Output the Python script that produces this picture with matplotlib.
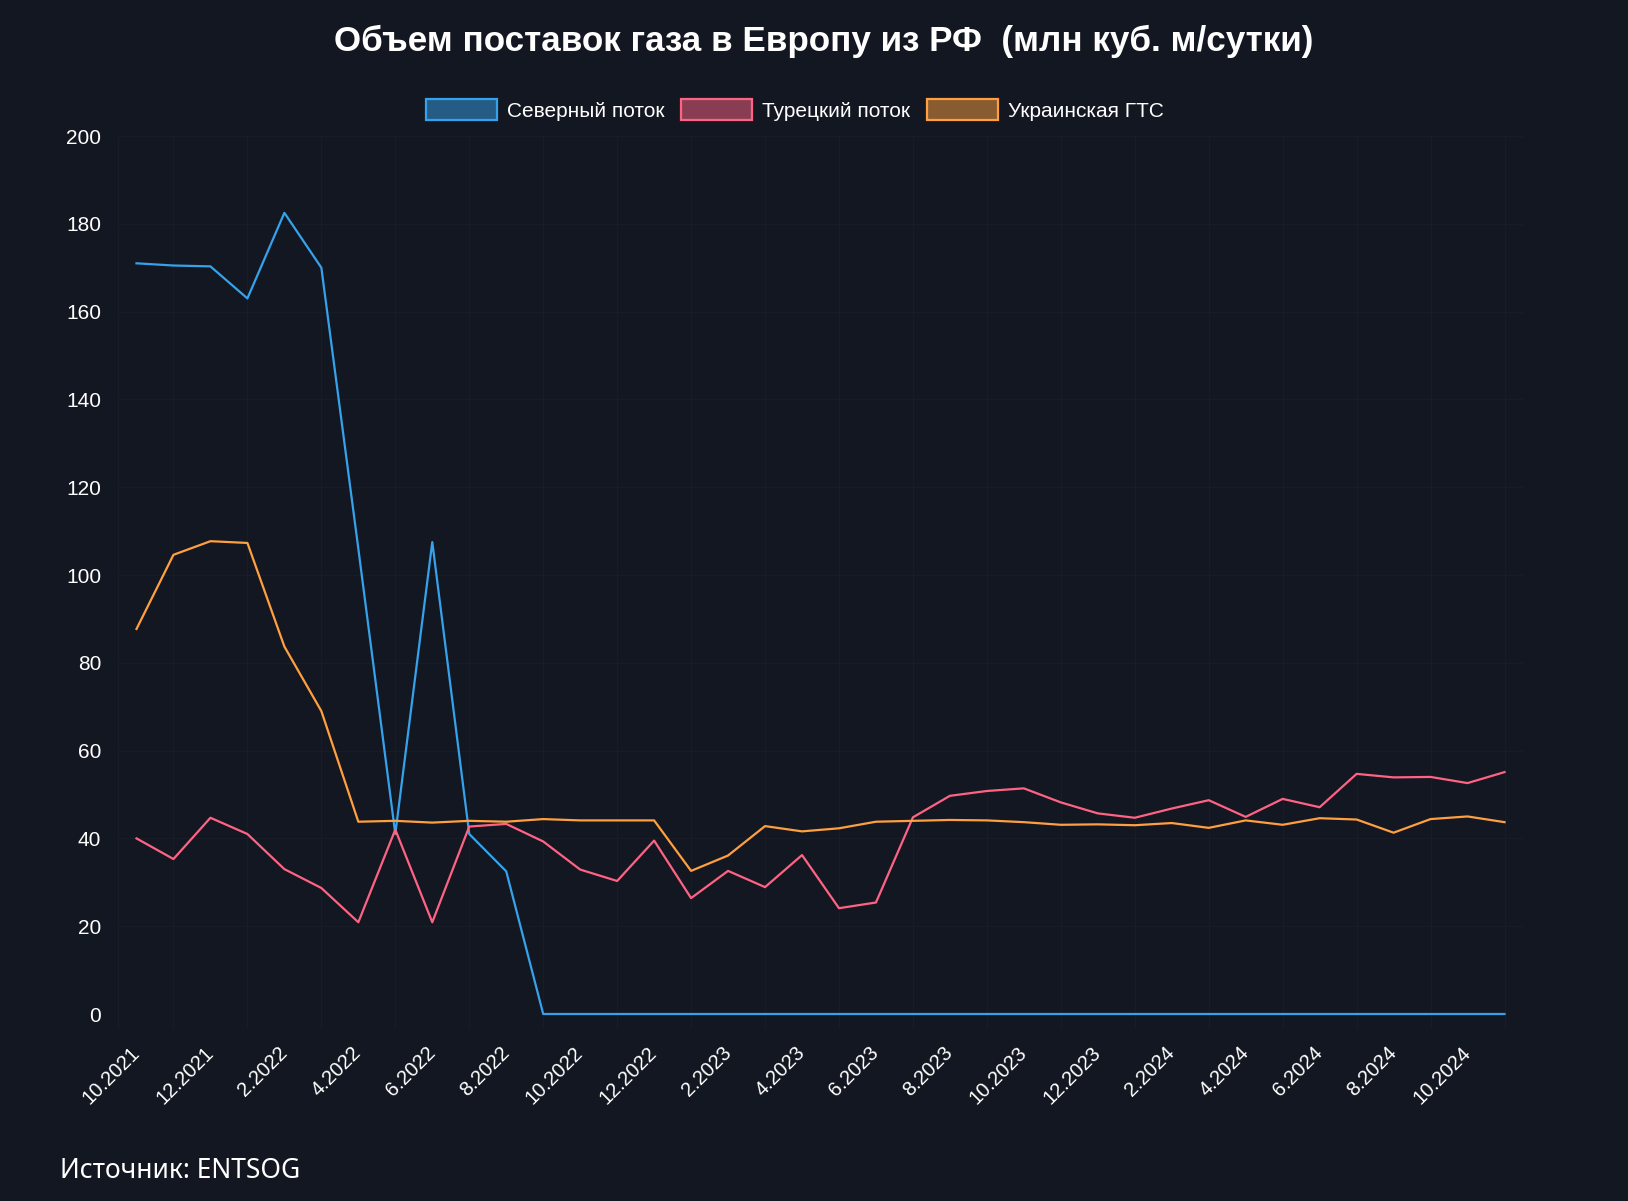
import matplotlib
matplotlib.use("Agg")
import matplotlib.pyplot as plt
import matplotlib.colors as mc
from matplotlib.patches import Patch

months = ["10.2021", "11.2021", "12.2021", "1.2022", "2.2022", "3.2022", "4.2022", "5.2022",
          "6.2022", "7.2022", "8.2022", "9.2022", "10.2022", "11.2022", "12.2022", "1.2023",
          "2.2023", "3.2023", "4.2023", "5.2023", "6.2023", "7.2023", "8.2023", "9.2023",
          "10.2023", "11.2023", "12.2023", "1.2024", "2.2024", "3.2024", "4.2024", "5.2024",
          "6.2024", "7.2024", "8.2024", "9.2024", "10.2024", "11.2024"]

nord_stream = [171.0, 170.5, 170.3, 163.0, 182.5, 170.0, 106.0, 41.0, 107.5, 41.0, 32.5, 0,
               0, 0, 0, 0, 0, 0, 0, 0, 0, 0, 0, 0, 0, 0, 0, 0, 0, 0, 0, 0, 0, 0, 0, 0, 0, 0]

turk_stream = [40.0, 35.3, 44.7, 41.0, 33.0, 28.7, 20.9, 42.0, 20.9, 42.7, 43.3, 39.3,
               32.9, 30.3, 39.5, 26.4, 32.6, 28.9, 36.2, 24.1, 25.4, 44.8, 49.7, 50.8,
               51.4, 48.2, 45.7, 44.7, 46.8, 48.7, 44.9, 49.0, 47.1, 54.7, 53.9, 54.0,
               52.6, 55.1]

ukraine_gts = [87.7, 104.6, 107.7, 107.3, 83.7, 69.0, 43.8, 44.0, 43.6, 44.0, 43.8, 44.4,
               44.1, 44.1, 44.1, 32.6, 36.1, 42.8, 41.6, 42.3, 43.8, 44.0, 44.2, 44.1,
               43.7, 43.1, 43.2, 43.0, 43.5, 42.4, 44.1, 43.1, 44.6, 44.3, 41.3, 44.4,
               45.0, 43.7]

series_names = ["Северный поток", "Турецкий поток", "Украинская ГТС"]
colors = ["#36A2EB", "#FF6384", "#FF9F40"]
y_ticks = [0, 20, 40, 60, 80, 100, 120, 140, 160, 180, 200]

title = "Объем поставок газа в Европу из РФ  (млн куб. м/сутки)"
source = "Источник: ENTSOG"

BG = "#131721"
GRID = "#181c26"

plt.rcParams['font.family'] = ['Liberation Sans', 'DejaVu Sans']

fig = plt.figure(figsize=(16.28, 12.01), dpi=100, facecolor=BG)
W, H = 1628, 1201
left, right, top, bottom = 118, 1523, 136, 1014
ax = fig.add_axes([left / W, 1 - bottom / H, (right - left) / W, (bottom - top) / H])
ax.set_facecolor(BG)

x = list(range(len(months)))
for vals, c in zip([nord_stream, turk_stream, ukraine_gts], colors):
    ax.plot(x, vals, color=c, lw=1.6, clip_on=False, zorder=3)

ax.set_xlim(-0.5, len(months) - 0.5)
ax.set_ylim(0, 200)

# grid
for yv in y_ticks:
    ax.axhline(yv, color=GRID, lw=1, zorder=1)
for xi in [-0.5] + list(range(1, len(months), 2)):
    ax.axvline(xi, color=GRID, lw=1, zorder=1)
    ax.plot([xi, xi], [0, -3.3], color=GRID, lw=1, clip_on=False, zorder=1)

for s in ax.spines.values():
    s.set_visible(False)

ax.set_yticks(y_ticks)
ax.set_yticklabels([str(v) for v in y_ticks], color="white", fontsize=15)
ax.tick_params(axis='y', length=0, pad=12)

tick_idx = list(range(0, len(months), 2))
ax.set_xticks(tick_idx)
ax.set_xticklabels([months[i] for i in tick_idx], color="white", fontsize=14.5,
                   rotation=45, ha='right', va='center', rotation_mode='anchor')
ax.tick_params(axis='x', length=0, pad=26)

fig.text(824 / W, 1 - 41.5 / H, title, ha='center', va='center', color='white',
         fontsize=25.2, fontweight='bold')

handles = []
for c in colors:
    r, g, b = mc.to_rgb(c)
    handles.append(Patch(facecolor=(r, g, b, 0.5), edgecolor=(r, g, b, 1.0), lw=1.6))
leg = fig.legend(handles, series_names, loc='center', bbox_to_anchor=(795 / W, 1 - 110 / H),
                 ncol=3, frameon=False, fontsize=15, handlelength=3.4, handleheight=1.15,
                 handletextpad=0.5, columnspacing=0.8, labelcolor='white')

fig.text(60 / W, 1 - 1171 / H, source, ha='left', va='center', color='white',
         fontsize=19, family=['Noto Sans', 'DejaVu Sans'])

fig.savefig("out.png", dpi=100, facecolor=BG)
